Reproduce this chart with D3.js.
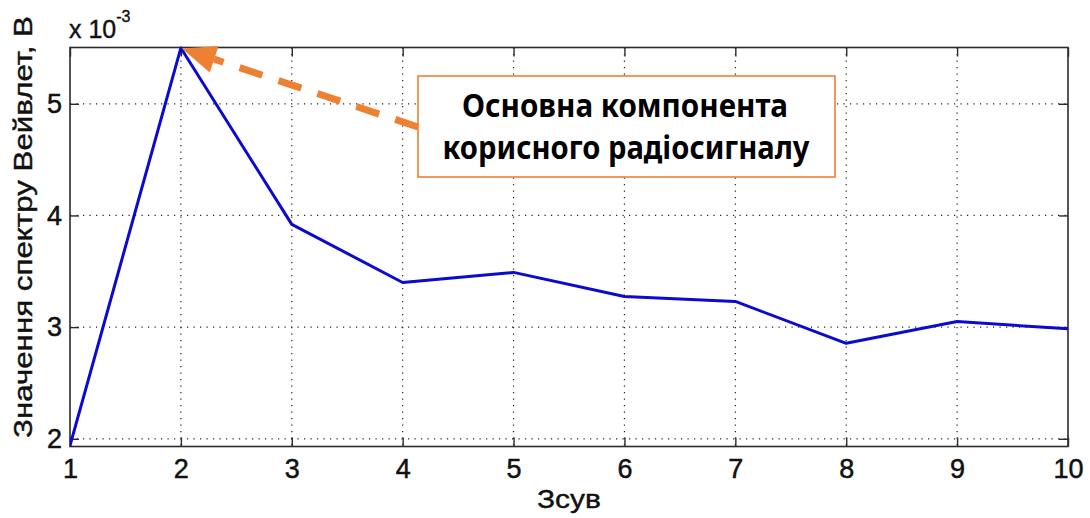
<!DOCTYPE html>
<html>
<head>
<meta charset="utf-8">
<script src="https://cdn.jsdelivr.net/npm/d3@7"></script>
<style>
  html, body { margin: 0; padding: 0; background: #fff; }
  svg { display: block; }
</style>
</head>
<body>
<svg id="chart" width="1090" height="518"></svg>
<script>
// Shift index and Wavelet spectrum value (units of 1e-3 V)
const shifts = [1, 2, 3, 4, 5, 6, 7, 8, 9, 10];
const spectrum = [1.94, 5.50, 3.92, 3.40, 3.49, 3.275, 3.23, 2.855, 3.05, 2.985];
const xTicks = [1, 2, 3, 4, 5, 6, 7, 8, 9, 10];
const yTicks = [2, 3, 4, 5];
const yDomain = [1.931, 5.504];
const annotationLines = ["Основна компонента", "корисного радіосигналу"];

const svg = d3.select("#chart");
const m = { left: 70, right: 1068, top: 47.5, bottom: 446.5 };

const x = d3.scaleLinear().domain([1, 10]).range([m.left, m.right]);
const y = d3.scaleLinear().domain(yDomain).range([m.bottom, m.top]);

const font = "'Liberation Sans', Arial, sans-serif";
const axisColor = "#2b2b2b";

// Dotted grid
const grid = svg.append("g");
grid.selectAll("line.vg").data(xTicks.filter(d => d > 1 && d < 10)).join("line")
  .attr("x1", d => x(d)).attr("x2", d => x(d))
  .attr("y1", m.top).attr("y2", m.bottom)
  .attr("stroke", "#222").attr("stroke-width", 1.2)
  .attr("stroke-dasharray", "1.2,5.3");
grid.selectAll("line.hg").data(yTicks).join("line")
  .attr("x1", m.left).attr("x2", m.right)
  .attr("y1", d => y(d)).attr("y2", d => y(d))
  .attr("stroke", "#222").attr("stroke-width", 1.2)
  .attr("stroke-dasharray", "1.2,5.3");

// Axes with inward ticks on all four sides
const tickLen = 9;
const bottomAxis = d3.axisBottom(x).tickValues(xTicks).tickSize(-tickLen).tickPadding(12).tickFormat(d3.format("d"));
const topAxis = d3.axisTop(x).tickValues(xTicks).tickSize(-tickLen).tickFormat("");
const leftAxis = d3.axisLeft(y).tickValues(yTicks).tickSize(-tickLen).tickPadding(8).tickFormat(d3.format("d"));
const rightAxis = d3.axisRight(y).tickValues(yTicks).tickSize(-tickLen).tickFormat("");

function styleAxis(g) {
  g.select(".domain").remove();
  g.selectAll(".tick line").attr("stroke", axisColor).attr("stroke-width", 1.4);
  g.selectAll(".tick text")
    .attr("fill", "#111").attr("stroke", "#111").attr("stroke-width", 0.5)
    .style("font-family", font).style("font-size", "27px");
}
svg.append("g").attr("transform", `translate(0,${m.bottom})`).call(bottomAxis).call(styleAxis);
svg.append("g").attr("transform", `translate(0,${m.top})`).call(topAxis).call(styleAxis);
svg.append("g").attr("transform", `translate(${m.left},0)`).call(leftAxis).call(styleAxis);
svg.append("g").attr("transform", `translate(${m.right},0)`).call(rightAxis).call(styleAxis);

// Frame
svg.append("rect")
  .attr("x", m.left).attr("y", m.top)
  .attr("width", m.right - m.left).attr("height", m.bottom - m.top)
  .attr("fill", "none").attr("stroke", axisColor).attr("stroke-width", 1.6);

// Data line
svg.append("clipPath").attr("id", "plotClip").append("rect")
  .attr("x", m.left).attr("y", m.top - 2)
  .attr("width", m.right - m.left).attr("height", m.bottom - m.top + 2);
svg.append("path")
  .datum(shifts.map((s, i) => [s, spectrum[i]]))
  .attr("clip-path", "url(#plotClip)")
  .attr("d", d3.line().x(d => x(d[0])).y(d => y(d[1])))
  .attr("fill", "none")
  .attr("stroke", "#0a0ad0")
  .attr("stroke-width", 3)
  .attr("stroke-linejoin", "round");

// Exponent label
const expo = svg.append("text")
  .attr("x", 69).attr("y", 38)
  .attr("stroke", "#111").attr("stroke-width", 0.4)
  .style("font-family", font).style("font-size", "25px").attr("fill", "#111");
expo.append("tspan").text("x 10");
expo.append("tspan").attr("dy", -16).style("font-size", "16px").text("-3");

// Axis titles
svg.append("text")
  .attr("x", 569).attr("y", 508)
  .attr("text-anchor", "middle")
  .attr("textLength", 64).attr("lengthAdjust", "spacingAndGlyphs")
  .attr("stroke", "#111").attr("stroke-width", 0.4)
  .style("font-family", font).style("font-size", "25px").attr("fill", "#111")
  .text("Зсув");
svg.append("text")
  .attr("transform", "translate(32,227) rotate(-90)")
  .attr("text-anchor", "middle")
  .attr("textLength", 422).attr("lengthAdjust", "spacingAndGlyphs")
  .attr("stroke", "#111").attr("stroke-width", 0.4)
  .style("font-family", font).style("font-size", "25px").attr("fill", "#111")
  .text("Значення спектру Вейвлет, В");

// Callout box
const orange = "#ee8032";
const box = { x: 418, y: 76, w: 417, h: 101 };
svg.append("rect")
  .attr("x", box.x).attr("y", box.y).attr("width", box.w).attr("height", box.h)
  .attr("fill", "#fff").attr("stroke", orange).attr("stroke-width", 1.6);
svg.append("text")
  .attr("x", 625).attr("y", 117)
  .attr("text-anchor", "middle")
  .attr("textLength", 326).attr("lengthAdjust", "spacingAndGlyphs")
  .style("font-family", "'Noto Sans', 'Open Sans', sans-serif")
  .style("font-weight", "bold").style("font-size", "32px").attr("fill", "#000")
  .text(annotationLines[0]);
svg.append("text")
  .attr("x", 626).attr("y", 159)
  .attr("text-anchor", "middle")
  .attr("textLength", 367).attr("lengthAdjust", "spacingAndGlyphs")
  .style("font-family", "'Noto Sans', 'Open Sans', sans-serif")
  .style("font-weight", "bold").style("font-size", "32px").attr("fill", "#000")
  .text(annotationLines[1]);

// Dashed arrow pointing to the peak
const peakIdx = spectrum.indexOf(d3.max(spectrum));
const tip = [x(shifts[peakIdx]) + 1, y(spectrum[peakIdx]) + 0.5];
const start = [box.x, 127];
const dx = start[0] - tip[0], dy = start[1] - tip[1];
const len = Math.hypot(dx, dy);
const ux = dx / len, uy = dy / len;
const headLen = 34, headHalf = 14;
const base = [tip[0] + ux * headLen, tip[1] + uy * headLen];
svg.append("line")
  .attr("x1", start[0]).attr("y1", start[1])
  .attr("x2", base[0]).attr("y2", base[1])
  .attr("stroke", orange).attr("stroke-width", 7)
  .attr("stroke-dasharray", "24,17");
svg.append("polygon")
  .attr("points", [
    tip,
    [base[0] - uy * headHalf, base[1] + ux * headHalf],
    [base[0] + uy * headHalf, base[1] - ux * headHalf]
  ].map(p => p.join(",")).join(" "))
  .attr("fill", orange);
</script>
</body>
</html>
